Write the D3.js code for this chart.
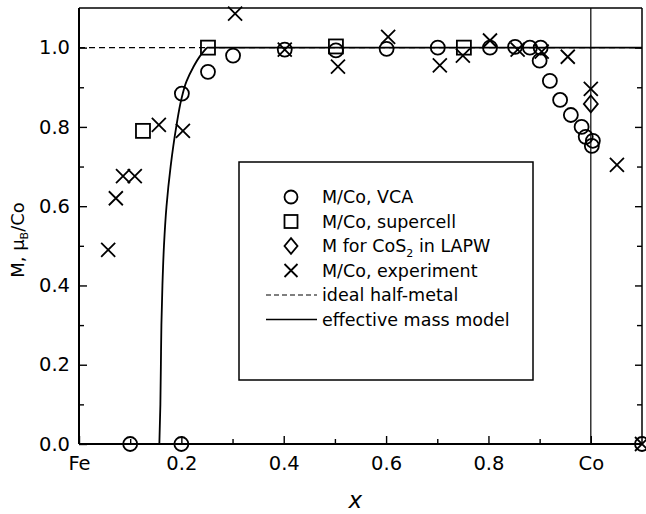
<!DOCTYPE html>
<html>
<head>
<meta charset="utf-8">
<script src="https://cdn.jsdelivr.net/npm/d3@7"></script>
<style>
  body { margin: 0; background: #fff; }
  svg text { font-family: "DejaVu Sans", sans-serif; fill: #000; }
</style>
</head>
<body>
<div id="chart"></div>
<script>
"use strict"

// M/Co, VCA (circles)
var vcaX = [0.1, 0.2, 0.201, 0.252, 0.301, 0.402, 0.502, 0.601, 0.701, 0.803, 0.852, 0.881, 0.902,
  0.9, 0.92, 0.94, 0.961, 0.982, 0.99, 1.004, 1.002, 1.1];
var vcaY = [0, 0, 0.884, 0.939, 0.98, 0.995, 0.993, 0.997, 1.0, 1.0, 1.002, 1.0, 1.0,
  0.967, 0.916, 0.868, 0.83, 0.80, 0.775, 0.765, 0.752, 0];

// M/Co, supercell (squares)
var superX = [0.125, 0.252, 0.502, 0.752];
var superY = [0.79, 1.0, 1.003, 1.0];

// M for CoS2 in LAPW (diamond)
var lapwX = [1.0];
var lapwY = [0.858];

// M/Co, experiment (crosses)
var expX = [0.057, 0.072, 0.086, 0.109, 0.156, 0.203, 0.305, 0.402, 0.506, 0.604, 0.705, 0.75,
  0.803, 0.857, 0.904, 0.955, 1.0, 1.051, 1.1];
var expY = [0.49, 0.62, 0.676, 0.676, 0.805, 0.79, 1.086, 0.995, 0.952, 1.027, 0.955, 0.98,
  1.018, 0.995, 0.99, 0.977, 0.896, 0.704, 0];

// ideal half-metal (dashed)
var idealX = [0, 1.1];
var idealY = [1, 1];

// effective mass model (solid curve)
var modelX = [0.157, 0.159, 0.16, 0.161, 0.163, 0.166, 0.171, 0.179, 0.19, 0.2, 0.21, 0.223, 0.236, 0.25, 1.1];
var modelY = [0, 0.1, 0.2, 0.3, 0.4, 0.5, 0.6, 0.7, 0.8, 0.87, 0.915, 0.95, 0.978, 1.0, 1.0];

var xMajor = [0, 0.2, 0.4, 0.6, 0.8, 1.0];
var xLabels = ['Fe', '0.2', '0.4', '0.6', '0.8', 'Co'];
var xMinor = [0.1, 0.3, 0.5, 0.7, 0.9];
var yMajor = [0, 0.2, 0.4, 0.6, 0.8, 1.0];
var yMinor = [0.1, 0.3, 0.5, 0.7, 0.9];

var legendNames = ['M/Co, VCA', 'M/Co, supercell', 'M for CoS2 in LAPW', 'M/Co, experiment',
  'ideal half-metal', 'effective mass model'];

var W = 646, H = 514;
var margin = { left: 79, right: 4, top: 8, bottom: 70 };
var width = W - margin.left - margin.right;
var height = H - margin.top - margin.bottom;

var svg = d3.select('#chart').append('svg')
  .attr('width', W)
  .attr('height', H);

var g = svg.append('g')
  .attr('transform', 'translate(' + margin.left + ',' + margin.top + ')');

var x = d3.scaleLinear().domain([0, 1.1]).range([0, width]);
var y = d3.scaleLinear().domain([0, 1.1]).range([height, 0]);

// axes, ticks point inward
g.append('g')
  .attr('transform', 'translate(0,' + height + ')')
  .call(d3.axisBottom(x).tickValues(xMajor).tickSize(-8).tickPadding(12)
    .tickFormat((d, i) => xLabels[i]));
g.append('g')
  .attr('transform', 'translate(0,' + height + ')')
  .call(d3.axisBottom(x).tickValues(xMinor).tickSize(-5).tickFormat(''));

g.append('g')
  .call(d3.axisLeft(y).tickValues(yMajor).tickSize(-8).tickPadding(9).tickFormat(d3.format('.1f')));
g.append('g')
  .call(d3.axisLeft(y).tickValues(yMinor).tickSize(-5).tickFormat(''));

g.append('g')
  .attr('transform', 'translate(' + width + ',0)')
  .call(d3.axisRight(y).tickValues(yMajor.slice(1)).tickSize(-7).tickFormat(''));
g.append('g')
  .attr('transform', 'translate(' + width + ',0)')
  .call(d3.axisRight(y).tickValues(yMinor).tickSize(-5).tickFormat(''));

g.selectAll('.domain').remove();
g.selectAll('.tick line').attr('stroke', '#000').attr('stroke-width', 1.4);
g.selectAll('.tick text').style('font-size', '19.5px');

// frame
g.append('line').attr('x1', 0).attr('x2', width).attr('y1', height).attr('y2', height)
  .attr('stroke', '#000').attr('stroke-width', 2);
g.append('line').attr('x1', 0).attr('x2', 0).attr('y1', 0).attr('y2', height)
  .attr('stroke', '#000').attr('stroke-width', 2);
g.append('line').attr('x1', width).attr('x2', width).attr('y1', 0).attr('y2', height)
  .attr('stroke', '#000').attr('stroke-width', 1.5);
g.append('line').attr('x1', 0).attr('x2', width).attr('y1', 0).attr('y2', 0)
  .attr('stroke', '#000').attr('stroke-width', 1.3);

// vertical line at Co
g.append('line')
  .attr('x1', x(1)).attr('x2', x(1))
  .attr('y1', y(0)).attr('y2', y(1.1))
  .attr('stroke', '#000').attr('stroke-width', 1.2);

// ideal half-metal
var idealLine = d3.line().x((d, i) => x(idealX[i])).y((d, i) => y(idealY[i]));
g.append('path')
  .attr('d', idealLine(idealX))
  .attr('fill', 'none').attr('stroke', '#000').attr('stroke-width', 1.2)
  .attr('stroke-dasharray', '6,4');

// effective mass model: curved rise then flat
var nCurve = modelX.length - 1;
var curveLine = d3.line().curve(d3.curveMonotoneY)
  .x(i => x(modelX[i])).y(i => y(modelY[i]));
var flatLine = d3.line().x(i => x(modelX[i])).y(i => y(modelY[i]));
g.append('path')
  .attr('d', curveLine(d3.range(nCurve)))
  .attr('fill', 'none').attr('stroke', '#000').attr('stroke-width', 1.8);
g.append('path')
  .attr('d', flatLine([nCurve - 1, nCurve]))
  .attr('fill', 'none').attr('stroke', '#000').attr('stroke-width', 1.8);

// marker shapes
function drawMarker(sel, type, s) {
  if (type === 'circle') {
    sel.append('circle').attr('r', s);
  } else if (type === 'square') {
    sel.append('rect').attr('x', -s).attr('y', -s).attr('width', 2 * s).attr('height', 2 * s);
  } else if (type === 'diamond') {
    sel.append('path').attr('d', 'M0,' + (-s * 1.2) + 'L' + s + ',0L0,' + (s * 1.2) + 'L' + (-s) + ',0Z');
  } else if (type === 'cross') {
    sel.append('path').attr('d', 'M' + (-s) + ',' + (-s) + 'L' + s + ',' + s +
      'M' + s + ',' + (-s) + 'L' + (-s) + ',' + s);
  }
  sel.attr('fill', 'none').attr('stroke', '#000').attr('stroke-width', 1.8);
}

function plotSeries(xs, ys, type) {
  xs.forEach((xv, i) => {
    var m = g.append('g').attr('transform', 'translate(' + x(xv) + ',' + y(ys[i]) + ')');
    drawMarker(m, type, 7);
  });
}

plotSeries(vcaX, vcaY, 'circle');
plotSeries(superX, superY, 'square');
plotSeries(lapwX, lapwY, 'diamond');
plotSeries(expX, expY, 'cross');

// legend
var lx = 239 - margin.left, ly = 162 - margin.top;
var legend = g.append('g').attr('transform', 'translate(' + lx + ',' + ly + ')');
legend.append('rect')
  .attr('width', 294).attr('height', 218)
  .attr('fill', '#fff').attr('stroke', '#000').attr('stroke-width', 1.5);

var legendTypes = ['circle', 'square', 'diamond', 'cross', 'dash', 'solid'];
legendTypes.forEach((t, i) => {
  var ry = 35 + i * 24.5;
  if (t === 'dash' || t === 'solid') {
    legend.append('line')
      .attr('x1', 27).attr('x2', 78).attr('y1', ry).attr('y2', ry)
      .attr('stroke', '#000').attr('stroke-width', t === 'dash' ? 1.2 : 1.6)
      .attr('stroke-dasharray', t === 'dash' ? '5,3' : null);
  } else {
    var m = legend.append('g').attr('transform', 'translate(52,' + ry + ')');
    drawMarker(m, t, 6.5);
  }
  var txt = legend.append('text')
    .attr('x', 83).attr('y', ry)
    .attr('dy', '0.36em')
    .style('font-size', '17.5px');
  if (i === 2) {
    txt.append('tspan').text('M for CoS');
    txt.append('tspan').text('2').attr('font-size', '11px').attr('dy', '5');
    txt.append('tspan').text(' in LAPW').attr('dy', '-5');
  } else {
    txt.text(legendNames[i]);
  }
});

// axis titles
var yTitle = svg.append('text')
  .attr('transform', 'translate(24,' + (margin.top + 232) + ') rotate(-90)')
  .attr('text-anchor', 'middle')
  .style('font-size', '18px');
yTitle.append('tspan').text('M, \u03bc');
yTitle.append('tspan').text('B').attr('font-size', '11px').attr('dy', '4');
yTitle.append('tspan').text('/Co').attr('dy', '-4');

svg.append('text')
  .attr('x', margin.left + x(0.54))
  .attr('y', 508)
  .attr('text-anchor', 'middle')
  .style('font-size', '23px')
  .style('font-style', 'italic')
  .text('x');
</script>
</body>
</html>
